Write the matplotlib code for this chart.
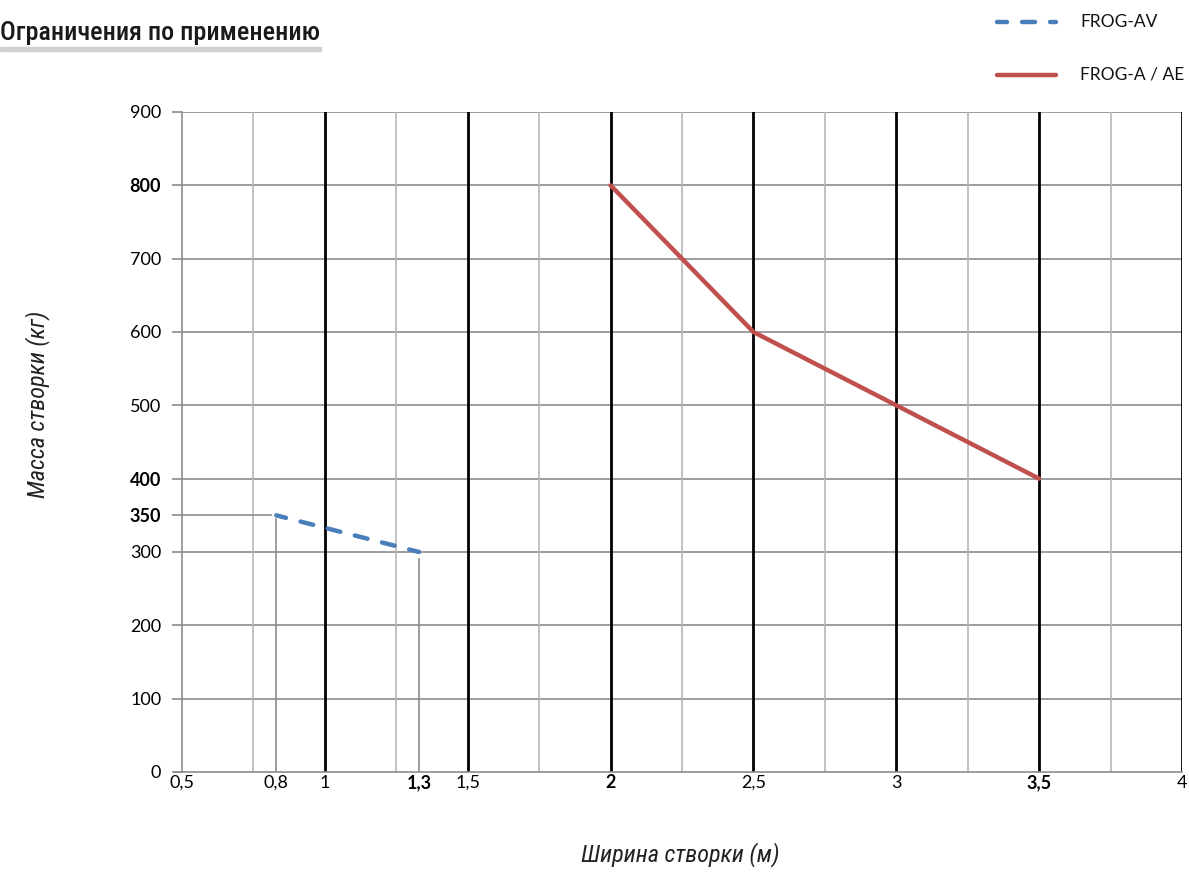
import os
import matplotlib
matplotlib.use("Agg")
import matplotlib.pyplot as plt
import matplotlib.patches as mpatches
from matplotlib.lines import Line2D
from matplotlib import font_manager as fm

# ---- data ----
av_x = [0.83, 1.33]          # FROG-AV widths (positions as drawn, labelled 0,8 and 1,3)
av_y = [350, 300]
a_x = [2.0, 2.5, 3.0, 3.5]   # FROG-A / AE widths
a_y = [800, 600, 500, 400]

x_ticks = [0.5, 0.83, 1.0, 1.33, 1.5, 2.0, 2.5, 3.0, 3.5, 4.0]
x_labels = ["0,5", "0,8", "1", "1,3", "1,5", "2", "2,5", "3", "3,5", "4"]
x_bold = ["1,3", "2", "3,5"]
y_ticks = [0, 100, 200, 300, 350, 400, 500, 600, 700, 800, 900]
y_labels = ["0", "100", "200", "300", "350", "400", "500", "600", "700", "800", "900"]
y_bold = ["350", "400", "800"]

major_x = [1.0, 1.5, 2.0, 2.5, 3.0, 3.5, 4.0]
minor_x = [0.75, 1.25, 1.75, 2.25, 2.75, 3.25, 3.75]
grid_y = [100, 200, 300, 400, 500, 600, 700, 800, 900]

title = "Ограничения по применению"
xlabel = "Ширина створки (м)"
ylabel = "Масса створки (кг)"
legend_labels = ["FROG-AV", "FROG-A / AE"]

BLUE = "#4a7ebb"
RED = "#c0504d"
GRID = "#8c8c8c"
LGRID = "#b8b8b8"


def find_condensed(italic=False, weight="regular"):
    prefs = ["robotocondensed", "libsansnarrow", "liberationsansnarrow",
             "dejavusanscondensed", "opensanscondensed", "notosanscondensed"]
    heavy = ["light", "thin", "semi", "extra", "medium", "black", "bold"]
    cands = []
    for f in fm.fontManager.ttflist:
        b = os.path.basename(f.fname).lower().replace("-", "").replace("_", "")
        if not ("condensed" in b or "narrow" in b):
            continue
        is_it = ("italic" in b or "oblique" in b)
        if is_it != italic:
            continue
        if weight == "regular":
            if any(h in b for h in heavy):
                continue
        else:
            if weight not in b or any(h in b for h in heavy if h != weight):
                continue
        rank = len(prefs)
        for i, p in enumerate(prefs):
            if b.startswith(p):
                rank = i
                break
        cands.append((rank, f.fname))
    if cands:
        cands.sort()
        return fm.FontProperties(fname=cands[0][1])
    return None


W, H = 1189, 873
fig = plt.figure(figsize=(W / 100, H / 100), dpi=100)
fig.patch.set_facecolor("white")

left, right, bottom, top = 182, 1182, 772, 112
ax = fig.add_axes([left / W, 1 - bottom / H, (right - left) / W, (bottom - top) / H])
ax.set_xlim(0.5, 4.0)
ax.set_ylim(0, 900)

for s in ["top", "right"]:
    ax.spines[s].set_visible(False)
for s in ["left", "bottom"]:
    ax.spines[s].set_color(GRID)
    ax.spines[s].set_linewidth(1.2)

# grid lines
for yv in grid_y:
    ax.axhline(yv, color=GRID, lw=1.2, zorder=1)
for xv in minor_x:
    ax.axvline(xv, color=LGRID, lw=1.2, zorder=1)
for xv in major_x:
    ax.axvline(xv, color="black", lw=2.0, zorder=2)
# bottom axis line extends a bit to the left like the reference
ax.plot([0.475, 0.5], [0, 0], color=GRID, lw=1.2, clip_on=False, zorder=1)

# helper lines for FROG-AV
ax.plot([0.5, av_x[0] - 0.02], [av_y[0], av_y[0]], color=GRID, lw=1.2, zorder=1)
ax.plot([av_x[0], av_x[0]], [0, av_y[0] - 5], color=GRID, lw=1.2, zorder=1)
ax.plot([av_x[1], av_x[1]], [0, av_y[1] - 10], color=GRID, lw=1.2, zorder=1)

# series
DASH = (0.68, (2.93, 3.38))
ax.plot(av_x, av_y, color=BLUE, lw=3.2, ls=DASH, dash_capstyle="round",
        solid_capstyle="round", zorder=4)
ax.plot(a_x, a_y, color=RED, lw=3.2, solid_capstyle="round", zorder=4)

# ticks
tick_font = ["Lato", "DejaVu Sans"]
ax.set_xticks(x_ticks)
ax.set_xticklabels(x_labels)
ax.set_yticks(y_ticks)
ax.set_yticklabels(y_labels)
ax.tick_params(axis="x", length=0, pad=11.5, labelsize=13)
ax.tick_params(axis="y", length=7, width=1.2, color=GRID, pad=8, labelsize=13)
for lab in ax.get_xticklabels():
    lab.set_family(tick_font)
    lab.set_verticalalignment("baseline")
    if lab.get_text() in x_bold:
        lab.set_fontweight("bold")
for lab in ax.get_yticklabels():
    lab.set_family(tick_font)
    if lab.get_text() in y_bold:
        lab.set_fontweight("bold")

fp_title = (find_condensed(italic=False, weight="medium")
            or find_condensed(italic=False, weight="regular")
            or fm.FontProperties(family="Roboto"))
fp_title.set_size(19)
fp_lab = find_condensed(italic=True) or fm.FontProperties(family="Roboto", style="italic")
fp_lab.set_size(17.5)

# axis labels
fig.text(38 / W, 1 - 404 / H, ylabel, rotation=90, ha="center", va="center",
         fontproperties=fp_lab, color="#222222")
fig.text(680 / W, 1 - 855 / H, xlabel, ha="center", va="center",
         fontproperties=fp_lab, color="#222222")

# title with underline bar; fit title width to the bar length
t = fig.text(0 / W, 1 - 33 / H, title, ha="left", va="center",
             fontproperties=fp_title, color="#1a1a1a")
renderer = fig.canvas.get_renderer()
tw = t.get_window_extent(renderer=renderer).width
if tw > 0:
    t.set_fontsize(19 * 320 / tw)
fig.patches.append(mpatches.Rectangle((0, 1 - 51 / H), 321 / W, 4 / H,
                                      transform=fig.transFigure, color="#d0d0d0",
                                      zorder=0))

# legend
fig.add_artist(Line2D([997 / W, 1056 / W], [1 - 22 / H, 1 - 22 / H], color=BLUE,
                      lw=3.2, ls=DASH, dash_capstyle="round",
                      transform=fig.transFigure))
fig.add_artist(Line2D([997 / W, 1056 / W], [1 - 75 / H, 1 - 75 / H], color=RED,
                      lw=3.2, solid_capstyle="round", transform=fig.transFigure))
fig.text(1080 / W, 1 - 22 / H, legend_labels[0], ha="left", va="center",
         fontsize=12.5, family=tick_font, color="#111111")
fig.text(1080 / W, 1 - 75 / H, legend_labels[1], ha="left", va="center",
         fontsize=12.5, family=tick_font, color="#111111")

fig.savefig("out.png", dpi=100, facecolor="white")
